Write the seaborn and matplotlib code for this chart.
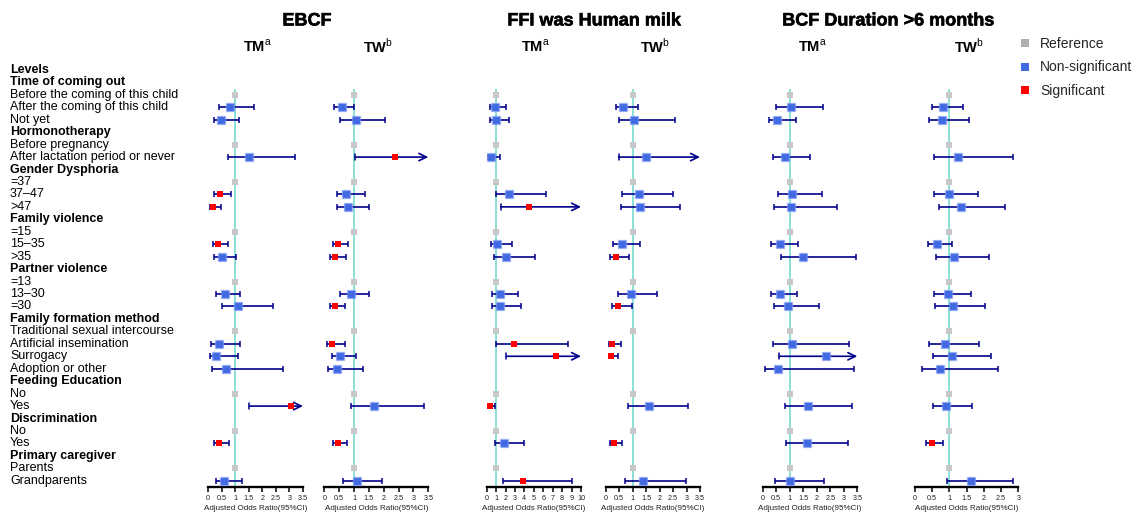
import numpy as np
import pandas as pd
import matplotlib
matplotlib.use("Agg")
import matplotlib.pyplot as plt
import matplotlib.transforms as mtrans
import matplotlib.patheffects as pe
from matplotlib.lines import Line2D
import seaborn as sns

sns.set_theme(style="white")
plt.rcParams["font.family"] = ["Liberation Sans", "DejaVu Sans"]
plt.rcParams["mathtext.fontset"] = "custom"
plt.rcParams["mathtext.rm"] = "Liberation Sans"
plt.rcParams["mathtext.bf"] = "Liberation Sans:bold"

# ---------------- data ----------------
row_labels = [
    "Levels", "Time of coming out", "Before the coming of this child",
    "After the coming of this child", "Not yet", "Hormonotherapy",
    "Before pregnancy", "After lactation period or never", "Gender Dysphoria",
    "=37", "37\u201347", ">47", "Family violence", "=15", "15\u201335", ">35",
    "Partner violence", "=13", "13\u201330", "=30", "Family formation method",
    "Traditional sexual intercourse", "Artificial insemination", "Surrogacy",
    "Adoption or other", "Feeding Education", "No", "Yes", "Discrimination",
    "No", "Yes", "Primary caregiver", "Parents", "Grandparents",
]
bold_rows = [0, 1, 5, 8, 12, 16, 20, 25, 28, 31]
ref_rows = [2, 6, 9, 13, 17, 21, 26, 29, 32]
data_rows = [3, 4, 7, 10, 11, 14, 15, 18, 19, 22, 23, 24, 27, 30, 33]

group_titles = ["EBCF", "FFI was Human milk", "BCF Duration >6 months"]
sub_titles = [r"$\mathbf{TM}^{\mathrm{a}}$", r"$\mathbf{TW}^{\mathrm{b}}$"]

# EBCF
ebcf_tm_or = [0.82, 0.48, 1.52, 0.45, 0.17, 0.38, 0.50, 0.63, 1.12, 0.39, 0.29, 0.65, 3.07, 0.42, 0.59]
ebcf_tm_lo = [0.42, 0.21, 0.74, 0.23, 0.07, 0.18, 0.22, 0.31, 0.53, 0.11, 0.06, 0.13, 1.52, 0.23, 0.28]
ebcf_tm_hi = [1.68, 1.13, 3.20, 0.86, 0.47, 0.75, 1.04, 1.19, 2.38, 1.19, 1.12, 2.77, 4.50, 0.76, 1.24]
ebcf_tm_sig = [0, 0, 0, 1, 1, 1, 0, 0, 0, 0, 0, 0, 1, 1, 0]

ebcf_tw_or = [0.58, 1.06, 2.38, 0.74, 0.79, 0.47, 0.37, 0.90, 0.37, 0.27, 0.52, 0.42, 1.68, 0.46, 1.09]
ebcf_tw_lo = [0.33, 0.53, 1.04, 0.42, 0.42, 0.28, 0.20, 0.54, 0.18, 0.09, 0.25, 0.11, 0.90, 0.29, 0.62]
ebcf_tw_hi = [1.01, 2.03, 5.40, 1.37, 1.52, 0.79, 0.73, 1.52, 0.71, 0.70, 1.08, 1.29, 3.37, 0.78, 1.95]
ebcf_tw_sig = [0, 0, 1, 0, 0, 1, 1, 0, 1, 1, 0, 0, 0, 1, 0]

# FFI was human milk
ffi_tm_or = [0.88, 0.95, 0.49, 2.37, 4.52, 1.10, 2.01, 1.38, 1.45, 2.93, 7.39, np.nan, 0.39, 1.84, 3.89]
ffi_tm_lo = [0.35, 0.32, 0.15, 0.95, 1.48, 0.46, 0.81, 0.60, 0.57, 0.99, 2.08, np.nan, 0.21, 0.88, 1.70]
ffi_tm_hi = [2.08, 2.40, 1.41, 6.33, 15.0, 2.72, 5.16, 3.32, 3.64, 8.62, 14.0, np.nan, 0.92, 3.99, 9.05]
ffi_tm_sig = [0, 0, 0, 0, 1, 0, 0, 0, 0, 1, 1, 0, 1, 0, 1]

ffi_tw_or = [0.66, 1.06, 1.51, 1.24, 1.26, 0.61, 0.40, 0.94, 0.47, 0.25, 0.21, np.nan, 1.59, 0.32, 1.40]
ffi_tw_lo = [0.37, 0.48, 0.48, 0.59, 0.57, 0.28, 0.16, 0.47, 0.22, 0.11, 0.11, np.nan, 0.82, 0.15, 0.70]
ffi_tw_hi = [1.21, 2.58, 4.50, 2.48, 2.77, 1.27, 0.85, 1.89, 0.99, 0.56, 0.47, np.nan, 3.04, 0.62, 2.98]
ffi_tw_sig = [0, 0, 0, 0, 0, 0, 1, 0, 1, 1, 1, 0, 0, 1, 0]

# BCF duration > 6 months
bcf_tm_or = [1.04, 0.53, 0.81, 1.10, 1.05, 0.63, 1.50, 0.63, 0.92, 1.10, 2.33, 0.55, 1.66, 1.65, 1.01]
bcf_tm_lo = [0.48, 0.23, 0.38, 0.55, 0.41, 0.30, 0.67, 0.30, 0.43, 0.39, 0.60, 0.10, 0.84, 0.86, 0.47]
bcf_tm_hi = [2.23, 1.23, 1.75, 2.21, 2.75, 1.32, 3.46, 1.28, 2.07, 3.21, 4.60, 3.38, 3.30, 3.17, 2.26]
bcf_tm_sig = [0, 0, 0, 0, 0, 0, 0, 0, 0, 0, 0, 0, 0, 0, 0]

bcf_tw_or = [0.82, 0.79, 1.26, 1.00, 1.34, 0.63, 1.13, 0.95, 1.09, 0.86, 1.08, 0.73, 0.90, 0.50, 1.62]
bcf_tw_lo = [0.48, 0.40, 0.56, 0.54, 0.69, 0.37, 0.60, 0.56, 0.59, 0.40, 0.53, 0.20, 0.51, 0.32, 0.93]
bcf_tw_hi = [1.38, 1.56, 2.86, 1.84, 2.62, 1.08, 2.14, 1.62, 2.02, 1.85, 2.22, 2.42, 1.66, 0.80, 2.85]
bcf_tw_sig = [0, 0, 0, 0, 0, 0, 0, 0, 0, 0, 0, 0, 0, 1, 0]

x_max = [3.5, 3.5, 10, 3.5, 3.5, 3.0]
x_ticks = [
    [0, 0.5, 1, 1.5, 2, 2.5, 3, 3.5],
    [0, 0.5, 1, 1.5, 2, 2.5, 3, 3.5],
    list(range(0, 11)),
    [0, 0.5, 1, 1.5, 2, 2.5, 3, 3.5],
    [0, 0.5, 1, 1.5, 2, 2.5, 3, 3.5],
    [0, 0.5, 1, 1.5, 2, 2.5, 3],
]
panel_series = [
    (ebcf_tm_or, ebcf_tm_lo, ebcf_tm_hi, ebcf_tm_sig),
    (ebcf_tw_or, ebcf_tw_lo, ebcf_tw_hi, ebcf_tw_sig),
    (ffi_tm_or, ffi_tm_lo, ffi_tm_hi, ffi_tm_sig),
    (ffi_tw_or, ffi_tw_lo, ffi_tw_hi, ffi_tw_sig),
    (bcf_tm_or, bcf_tm_lo, bcf_tm_hi, bcf_tm_sig),
    (bcf_tw_or, bcf_tw_lo, bcf_tw_hi, bcf_tw_sig),
]

# ---------------- layout ----------------
W, H = 1148, 512
fig = plt.figure(figsize=(W / 100, H / 100), dpi=100)
fig.patch.set_facecolor("white")

panel_px = [(208.0, 95.0), (324.3, 104.0), (486.7, 94.3),
            (605.7, 94.3), (762.7, 94.6), (915.0, 103.3)]
ax_bottom_px, ax_top_px = 487.0, 63.7

NAVY = "#00008B"
BLUE = "#4169E1"
RED = "#FF0000"
GREY = "#C8C8C8"
TEAL = "#82DDD3"

sizes = {"Reference": 16, "Non-significant": 27, "Significant": 17}

axes = []
for p, ((left, width), (orv, lov, hiv, sigv)) in enumerate(zip(panel_px, panel_series)):
    ax = fig.add_axes([left / W, (H - ax_bottom_px) / H, width / W,
                       (ax_bottom_px - ax_top_px) / H])
    axes.append(ax)
    xm = x_max[p]

    df = pd.DataFrame({"row": data_rows, "or": orv, "lo": lov, "hi": hiv,
                       "status": ["Significant" if s else "Non-significant" for s in sigv]})
    df = df.dropna()
    ref = pd.DataFrame({"row": ref_rows, "or": 1.0, "lo": np.nan, "hi": np.nan,
                        "status": "Reference"})

    # reference line
    ax.plot([1, 1], [1.5, 33.5], color=TEAL, lw=1.3, zorder=1, solid_capstyle="butt")

    # confidence intervals
    full = df[df["hi"] <= xm]
    ax.errorbar(full["or"], full["row"],
                xerr=[full["or"] - full["lo"], full["hi"] - full["or"]],
                fmt="none", ecolor=NAVY, elinewidth=1.2, capsize=2.3,
                capthick=1.1, zorder=2)
    trunc = df[df["hi"] > xm]
    for _, r in trunc.iterrows():
        ax.annotate("", xy=(xm, r["row"]), xytext=(r["lo"], r["row"]),
                    arrowprops=dict(arrowstyle="->,head_length=0.45,head_width=0.22",
                                    color=NAVY, lw=1.2, shrinkA=0, shrinkB=0),
                    zorder=2)
        ax.plot([r["lo"], r["lo"]], [r["row"] - 0.23, r["row"] + 0.23],
                color=NAVY, lw=1.1, zorder=2)

    # points
    sns.scatterplot(data=ref, x="or", y="row", color=GREY, marker="s",
                    s=sizes["Reference"], linewidth=0, ax=ax, legend=False, zorder=3)
    ns = df[df["status"] == "Non-significant"]
    if len(ns):
        sns.scatterplot(data=ns, x="or", y="row", color=BLUE, marker="s",
                        s=sizes["Non-significant"], edgecolor=(0.55, 0.65, 0.97, 0.55),
                        linewidth=1.0, ax=ax, legend=False, zorder=3)
    sg = df[df["status"] == "Significant"]
    if len(sg):
        sns.scatterplot(data=sg, x="or", y="row", color=RED, marker="s",
                        s=sizes["Significant"], linewidth=0, ax=ax, legend=False, zorder=3)

    ax.set_xlim(0, xm)
    ax.set_ylim(33.5, -0.5)
    ax.set_yticks([])
    ax.set_ylabel("")
    ax.set_xticks(x_ticks[p])
    ax.set_xticklabels([f"{t:g}" for t in x_ticks[p]])
    for s in ["left", "top", "right"]:
        ax.spines[s].set_visible(False)
    ax.spines["bottom"].set_linewidth(1.7)
    ax.spines["bottom"].set_color("black")
    ax.tick_params(axis="x", direction="out", length=3.8, width=1.1, color="black",
                   labelsize=5.2, pad=1.8, bottom=True, labelcolor="#222222")
    ax.set_xlabel("Adjusted Odds Ratio(95%CI)", fontsize=5.8, labelpad=2.2, color="#222222")
    ax.set_facecolor("none")
    ax.grid(False)

# row labels
trans = mtrans.blended_transform_factory(fig.transFigure, axes[0].transData)
for i, lab in enumerate(row_labels):
    axes[0].text(10 / W, i, lab, transform=trans, ha="left", va="center",
                 fontsize=9, fontweight="bold" if i in bold_rows else "normal",
                 color="black", clip_on=False)

# group titles
group_centers = [307, 594, 888]
for t, cx in zip(group_titles, group_centers):
    fig.text(cx / W, 1 - 21 / H, t, ha="center", va="center", fontsize=13,
             fontweight="bold", color="black",
             path_effects=[pe.withStroke(linewidth=0.4, foreground="black")])

# sub titles
for p, (left, width) in enumerate(panel_px):
    cx = left + width / 2 + 2
    fig.text(cx / W, 1 - 46 / H, sub_titles[p % 2], ha="center", va="center",
             fontsize=10.5, color="black")

# legend
handles = [Line2D([], [], marker="s", linestyle="none", markersize=5.5,
                  markerfacecolor=c, markeredgewidth=0)
           for c in ["#AFAFAF", BLUE, RED]]
fig.legend(handles, ["Reference", "Non-significant", "Significant"],
           loc="upper left", bbox_to_anchor=(1020 / W, 1 - 37 / H), frameon=False,
           fontsize=10, handlelength=0.7, handletextpad=0.75, labelspacing=0.68,
           borderaxespad=0, borderpad=0)

fig.savefig("out.png", dpi=100, facecolor="white")
